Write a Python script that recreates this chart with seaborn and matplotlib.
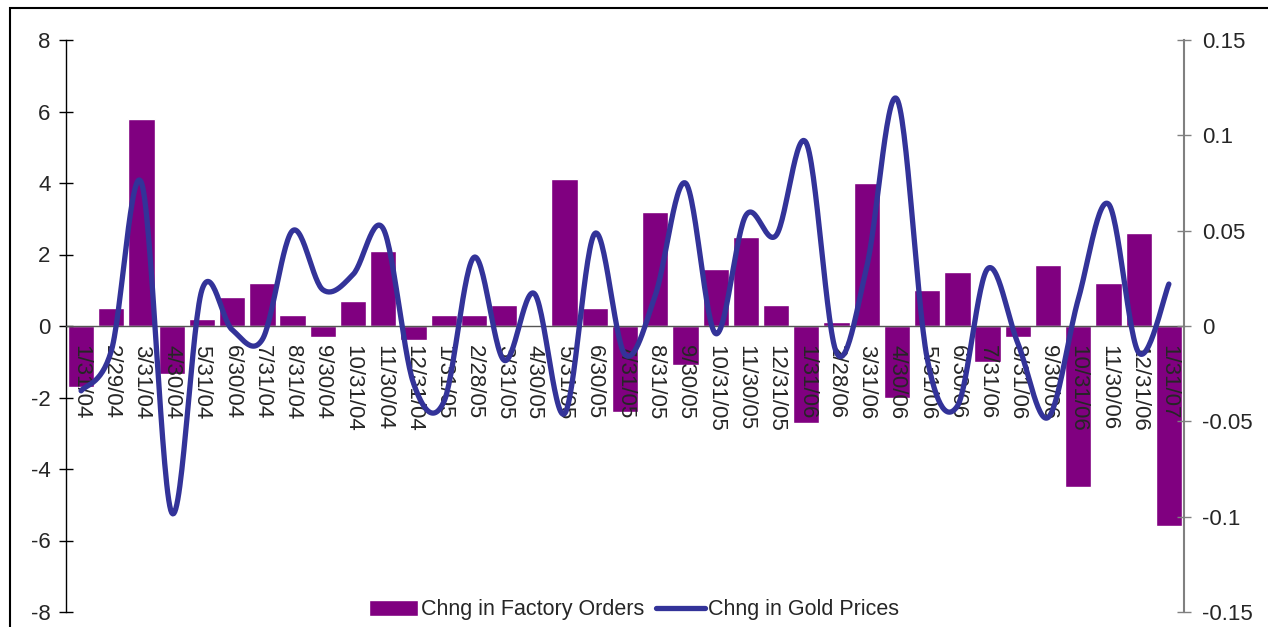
import numpy as np
import pandas as pd
import matplotlib
matplotlib.use("Agg")
import matplotlib.pyplot as plt
from matplotlib.patches import Rectangle
import seaborn as sns

dates = ["1/31/04", "2/29/04", "3/31/04", "4/30/04", "5/31/04", "6/30/04", "7/31/04",
         "8/31/04", "9/30/04", "10/31/04", "11/30/04", "12/31/04", "1/31/05", "2/28/05",
         "3/31/05", "4/30/05", "5/31/05", "6/30/05", "7/31/05", "8/31/05", "9/30/05",
         "10/31/05", "11/30/05", "12/31/05", "1/31/06", "2/28/06", "3/31/06", "4/30/06",
         "5/31/06", "6/30/06", "7/31/06", "8/31/06", "9/30/06", "10/31/06", "11/30/06",
         "12/31/06", "1/31/07"]

factory_orders = [-1.7, 0.5, 5.8, -1.35, 0.2, 0.8, 1.2, 0.3, -0.3, 0.7, 2.1, -0.4,
                  0.3, 0.3, 0.6, 0.0, 4.1, 0.5, -2.4, 3.2, -1.1, 1.6, 2.5, 0.6,
                  -2.7, 0.1, 4.0, -2.0, 1.0, 1.5, -1.0, -0.3, 1.7, -4.5, 1.2, 2.6, -5.6]

gold_prices = [-0.034, -0.013, 0.075, -0.098, 0.019, -0.002, -0.007, 0.050, 0.019,
               0.027, 0.051, -0.030, -0.040, 0.036, -0.018, 0.017, -0.046, 0.0485,
               -0.015, 0.016, 0.075, -0.004, 0.058, 0.0475, 0.096, -0.014, 0.031,
               0.119, -0.017, -0.042, 0.030, -0.009, -0.048, 0.014, 0.064, -0.014, 0.022]

left_ticks = [-8, -6, -4, -2, 0, 2, 4, 6, 8]
right_ticks = [-0.15, -0.1, -0.05, 0, 0.05, 0.1, 0.15]
right_tick_labels = ["-0.15", "-0.1", "-0.05", "0", "0.05", "0.1", "0.15"]

BAR_COLOR = "#800080"
LINE_COLOR = "#333399"


def smooth_curve(xv, yv, steps=30):
    """Bezier smoothing through every point (uniform Catmull-Rom)."""
    p = np.column_stack([xv, yv]).astype(float)
    p = np.vstack([p[0], p, p[-1]])
    out = []
    t = np.linspace(0, 1, steps, endpoint=False)[:, None]
    for i in range(1, len(p) - 2):
        p0, p1, p2, p3 = p[i - 1], p[i], p[i + 1], p[i + 2]
        c1 = p1 + (p2 - p0) / 6.0
        c2 = p2 - (p3 - p1) / 6.0
        seg = ((1 - t) ** 3) * p1 + 3 * ((1 - t) ** 2) * t * c1 + 3 * (1 - t) * t ** 2 * c2 + t ** 3 * p2
        out.append(seg)
    out.append(p[-2][None, :])
    out = np.vstack(out)
    return out[:, 0], out[:, 1]


sns.set_style("white")
plt.rcParams["font.family"] = ["Liberation Sans", "DejaVu Sans"]
plt.rcParams["font.size"] = 16

fig = plt.figure(figsize=(12.68, 6.27), dpi=100)
ax = fig.add_axes([66 / 1268, 1 - 612 / 627, (1184 - 66) / 1268, (612 - 40) / 627])
ax.set_axisbelow(False)

df = pd.DataFrame({"date": dates, "orders": factory_orders})
sns.barplot(data=df, x="date", y="orders", color=BAR_COLOR, saturation=1,
            width=0.87, ax=ax, label="Chng in Factory Orders")

ax.set_xlim(-0.5, len(dates) - 0.5)
ax.set_ylim(-8, 8)
ax.set_yticks(left_ticks)
ax.set_yticklabels([str(v) for v in left_ticks])
ax.set_xlabel("")
ax.set_ylabel("")

for side in ["top", "right"]:
    ax.spines[side].set_visible(False)
ax.spines["left"].set_color("black")
ax.spines["left"].set_linewidth(1.0)
ax.spines["bottom"].set_position(("data", 0))
ax.spines["bottom"].set_color("#555555")
ax.spines["bottom"].set_linewidth(1.0)

ax.tick_params(axis="y", direction="inout", length=10, width=1, color="black", pad=6)
ax.set_xticks(range(len(dates)))
ax.set_xticklabels(dates, rotation=-90, va="top", ha="center")
ax.set_xticks(np.arange(0.5, len(dates) - 0.5, 1.0), minor=True)
ax.tick_params(axis="x", which="major", length=0, pad=14)
ax.tick_params(axis="x", which="minor", direction="inout", length=10, width=1, color="#444444")
ax.xaxis.set_zorder(3)
ax.spines["bottom"].set_zorder(3)

ax2 = ax.twinx()
xs, ys = smooth_curve(np.arange(len(dates)), gold_prices)
sns.lineplot(x=xs, y=ys, sort=False, estimator=None, color=LINE_COLOR, linewidth=3.8,
             ax=ax2, label="Chng in Gold Prices", legend=False)
ax2.set_xlim(-0.5, len(dates) - 0.5)
ax2.set_ylim(-0.15, 0.15)
ax2.set_yticks(right_ticks)
ax2.set_yticklabels(right_tick_labels)
for side in ["top", "left", "bottom"]:
    ax2.spines[side].set_visible(False)
ax2.spines["right"].set_color("#808080")
ax2.spines["right"].set_linewidth(1.5)
ax2.tick_params(axis="y", direction="inout", length=10, width=1, color="#808080", pad=8)

handles = ax.get_legend_handles_labels()[0] + ax2.get_legend_handles_labels()[0]
labels = ax.get_legend_handles_labels()[1] + ax2.get_legend_handles_labels()[1]
if ax.get_legend() is not None:
    ax.get_legend().remove()
fig.legend(handles, labels, loc="center", bbox_to_anchor=(0.5, 1 - 610 / 627), ncol=2,
           frameon=False, handlelength=2.3, handletextpad=0.15, columnspacing=0.5,
           fontsize=15.5, borderaxespad=0)

# outer chart frame
fig.add_artist(Rectangle((10 / 1268, -0.1), 1.2, 1.1 - 8 / 627, transform=fig.transFigure,
                         fill=False, edgecolor="black", linewidth=1.5, clip_on=False))

fig.savefig("out.png", dpi=100)
